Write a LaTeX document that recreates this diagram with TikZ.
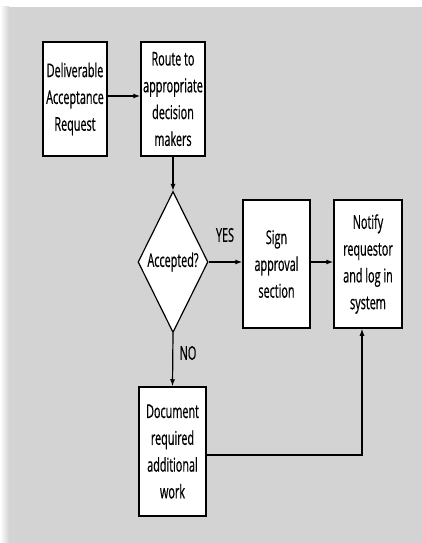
\documentclass[tikz,border=0pt]{standalone}
\usepackage{fontspec}
\setmainfont{Open Sans}[FakeStretch=0.57,FakeBold=0.6]
\usetikzlibrary{shapes.geometric,arrows.meta}
\definecolor{panel}{RGB}{211,211,211}
\begin{document}
\begin{tikzpicture}[x=1pt,y=-1pt,
  every node/.style={font=\fontsize{19}{26.8}\selectfont},
  stepbox/.style={draw=black,line width=1.5pt,fill=white,align=center,inner sep=0pt},
  decision/.style={draw=black,line width=1.2pt,fill=white,shape=diamond,aspect=0.5,inner sep=0pt,
    minimum width=70pt,minimum height=141pt},
  flow/.style={line width=1.2pt,-{Latex[length=7pt,width=5pt]}},
  tag/.style={inner sep=0pt}]
  \useasboundingbox (0,0) rectangle (422,543);
  % backdrop panel with a faint shadow on its left edge
  \fill[left color=white,right color=panel] (0,7) rectangle (9,543);
  \fill[panel] (9,7) rectangle (422,543);

  \node[stepbox,minimum width=64pt,minimum height=114pt] (req) at (75,99)
    {Deliverable\\Acceptance\\Request};
  \node[stepbox,minimum width=64pt,minimum height=114pt] (route) at (173,99)
    {Route to\\appropriate\\decision\\makers};
  \node[decision] (acc) at (173,262) {Accepted?};
  \node[stepbox,minimum width=67pt,minimum height=128pt] (sign) at (276.5,264)
    {Sign\\approval\\section};
  \node[stepbox,minimum width=68pt,minimum height=128pt] (notify) at (368,264)
    {Notify\\requestor\\and log in\\system};
  \node[stepbox,minimum width=67pt,minimum height=129pt] (doc) at (172.5,451.5)
    {Document\\required\\additional\\work};

  \node[tag] (yes) at (225,235) {YES};
  \node[tag] (no) at (188,353) {NO};

  \coordinate (turn) at (362,455);

  \draw[flow] ([yshift=3pt]req.east) -- ([yshift=3pt]route.west);
  \draw[flow] (route.south) -- (acc.north);
  \draw[flow] (acc.east) -- (acc.east -| sign.west);
  \draw[flow] (acc.east -| sign.east) -- (acc.east -| notify.west);
  \draw[flow] (acc.south) -- (doc.north);
  \draw[flow] (doc.east |- turn) -- (turn) -- (turn |- notify.south);
\end{tikzpicture}
\end{document}
